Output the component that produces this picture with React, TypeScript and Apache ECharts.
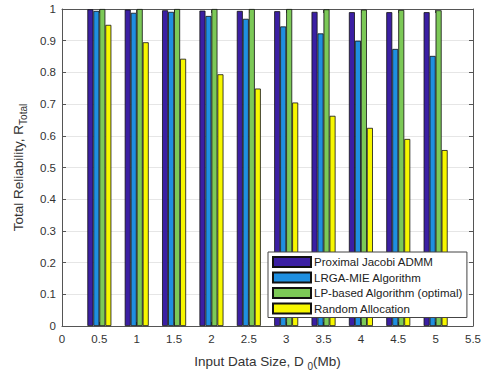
import React, { useEffect, useRef } from "react";
import * as echarts from "echarts";

const dataSizes = [0.5, 1, 1.5, 2, 2.5, 3, 3.5, 4, 4.5, 5];
const seriesNames = [
  "Proximal Jacobi ADMM",
  "LRGA-MIE Algorithm",
  "LP-based Algorithm (optimal)",
  "Random Allocation",
];
const admm = [0.999, 0.998, 0.996, 0.995, 0.994, 0.993, 0.991, 0.99, 0.99, 0.99];
const lrga = [0.994, 0.988, 0.991, 0.978, 0.969, 0.945, 0.923, 0.9, 0.874, 0.852];
const lp = [1.0, 1.0, 1.0, 1.0, 1.0, 1.0, 0.999, 0.998, 0.997, 0.996];
const random = [0.95, 0.895, 0.843, 0.794, 0.749, 0.705, 0.663, 0.625, 0.59, 0.555];
const colors = ["#3b1fa3", "#1f8fe0", "#7cc957", "#f7f700"];

export default function App() {
  const ref = useRef<HTMLDivElement>(null);
  useEffect(() => {
    if (!ref.current) return;
    const chart = echarts.init(ref.current, undefined, { renderer: "svg" });
    const values = [admm, lrga, lp, random];
    const axisColor = "#555555";
    const font = "Liberation Sans, Arial, sans-serif";
    const titleRich = {
      m: { fontSize: 13.5, color: "#333", fontFamily: font },
      s: { fontSize: 10, color: "#333", fontFamily: font, padding: [10, 0, 0, 0] },
    };
    chart.setOption({
      animation: false,
      textStyle: { fontFamily: font },
      grid: { left: 62, right: 14, top: 9, bottom: 47, containLabel: false },
      legend: {
        orient: "vertical",
        left: 268,
        top: 252,
        itemWidth: 38,
        itemHeight: 10,
        itemGap: 3.5,
        padding: [4, 4, 3, 4],
        borderColor: "#444",
        borderWidth: 1,
        backgroundColor: "#fff",
        icon: "rect",
        textStyle: { fontSize: 11.5, color: "#222", fontFamily: font, padding: [0, 0, 0, -2] },
        data: seriesNames,
      },
      xAxis: [
        {
          type: "value",
          min: 0,
          max: 5.5,
          interval: 0.5,
          name: "{m|Input Data Size, D }{s|0}{m|(Mb)}",
          nameLocation: "middle",
          nameGap: 25,
          nameTextStyle: { rich: titleRich },
          axisLine: { show: true, lineStyle: { color: axisColor } },
          axisTick: { inside: true, length: 4, lineStyle: { color: axisColor } },
          axisLabel: { fontSize: 11.5, color: "#333", margin: 7, fontFamily: font },
          splitLine: { show: true, lineStyle: { color: "#e6e6e6" } },
        },
        {
          type: "value",
          position: "top",
          min: 0,
          max: 5.5,
          interval: 0.5,
          axisLine: { show: true, onZero: false, lineStyle: { color: axisColor } },
          axisTick: { inside: true, length: 4, lineStyle: { color: axisColor } },
          axisLabel: { show: false },
          splitLine: { show: false },
        },
      ],
      yAxis: [
        {
          type: "value",
          min: 0,
          max: 1,
          interval: 0.1,
          name: "{m|Total Reliability, R}{s|Total}",
          nameLocation: "middle",
          nameGap: 34,
          nameTextStyle: { rich: titleRich },
          axisLine: { show: true, lineStyle: { color: axisColor } },
          axisTick: { show: true, inside: true, length: 4, lineStyle: { color: axisColor } },
          axisLabel: {
            fontSize: 11.5,
            color: "#333",
            margin: 6,
            fontFamily: font,
            formatter: (v: number) => (v === 0 || v === 1 ? String(v) : v.toFixed(1)),
          },
          splitLine: { show: true, lineStyle: { color: "#e6e6e6" } },
        },
        {
          type: "value",
          position: "right",
          min: 0,
          max: 1,
          interval: 0.1,
          axisLine: { show: true, onZero: false, lineStyle: { color: axisColor } },
          axisTick: { show: true, inside: true, length: 4, lineStyle: { color: axisColor } },
          axisLabel: { show: false },
          splitLine: { show: false },
        },
      ],
      series: seriesNames.map((name, i) => ({
        name,
        type: "bar",
        xAxisIndex: 0,
        yAxisIndex: 0,
        barWidth: 6,
        barGap: "0%",
        itemStyle: { color: colors[i], borderColor: "#111", borderWidth: 0.8 },
        data: dataSizes.map((x, j) => [x, values[i][j]]),
      })),
    });
    return () => chart.dispose();
  }, []);
  return <div ref={ref} style={{ width: 487, height: 376, position: "absolute", left: 0, top: 0 }} />;
}
